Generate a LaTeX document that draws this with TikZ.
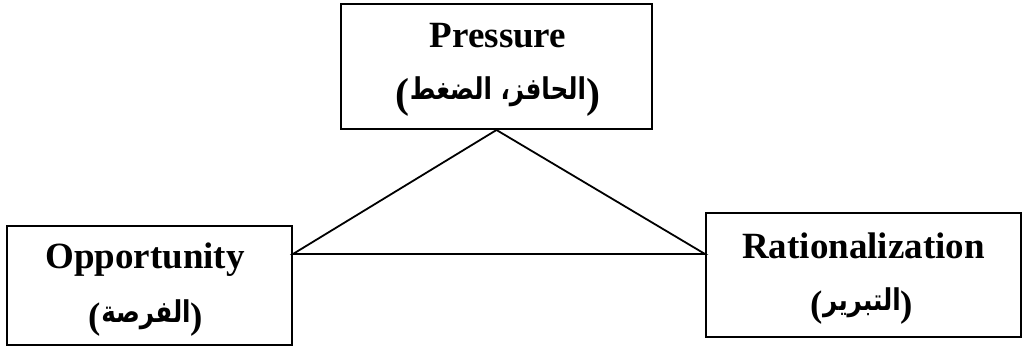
\documentclass[tikz,border=0pt]{standalone}
\usepackage{fontspec}
\setmainfont{Liberation Serif}
\newfontfamily\arabicfont[Script=Arabic, FakeStretch=0.82]{DejaVu Sans}
\TeXXeTstate=1
\usetikzlibrary{positioning}
\definecolor{Ink}{HTML}{000000}
\tikzset{
  box/.style={draw=Ink, line width=1pt, rectangle, inner sep=0pt},
  title/.style={anchor=base, inner sep=0pt, text=Ink,
                font=\fontsize{18.5}{22}\selectfont\bfseries},
  sub/.style={anchor=base, inner sep=0pt, text=Ink,
              font=\fontsize{18.5}{22}\selectfont\bfseries},
  link/.style={draw=Ink, line width=0.9pt}
}
\newcommand{\artext}[2][3pt]{\raisebox{#1}{\arabicfont\fontsize{15}{18}\selectfont\bfseries\beginR #2\endR}}

\begin{document}
\begin{tikzpicture}[x=0.5pt, y=-0.5pt]
  \useasboundingbox (0,0) rectangle (1027,351);
  % Pressure
  \node[box, minimum width=155.5pt, minimum height=62.5pt] (press) at (496.5,66.5) {};
  \node[title] (press-en) at (498,48) {Pressure};
  \node[sub, font=\fontsize{21}{25}\selectfont\bfseries] (press-ar) at (498,108)
    {(\artext[4pt]{الحافز، الضغط})};
  % Opportunity
  \node[box, minimum width=142.5pt, minimum height=59.5pt] (opp) at (149.5,285.5) {};
  \node[title] (opp-en) at (145,269) {Opportunity};
  \node[sub] (opp-ar) at (146,328.5) {(\artext{الفرصة})};
  % Rationalization
  \node[box, minimum width=157.5pt, minimum height=62pt] (rat) at (863.5,275) {};
  \node[title] (rat-en) at (863.5,259) {Rationalization};
  \node[sub] (rat-ar) at (862,317) {(\artext{التبرير})};
  % Triangle
  \coordinate (oppend) at (opp.east |- 0,254);
  \coordinate (ratend) at (rat.west |- 0,254);
  \draw[link] (oppend) -- (press.south) -- (ratend) -- cycle;
\end{tikzpicture}
\end{document}
